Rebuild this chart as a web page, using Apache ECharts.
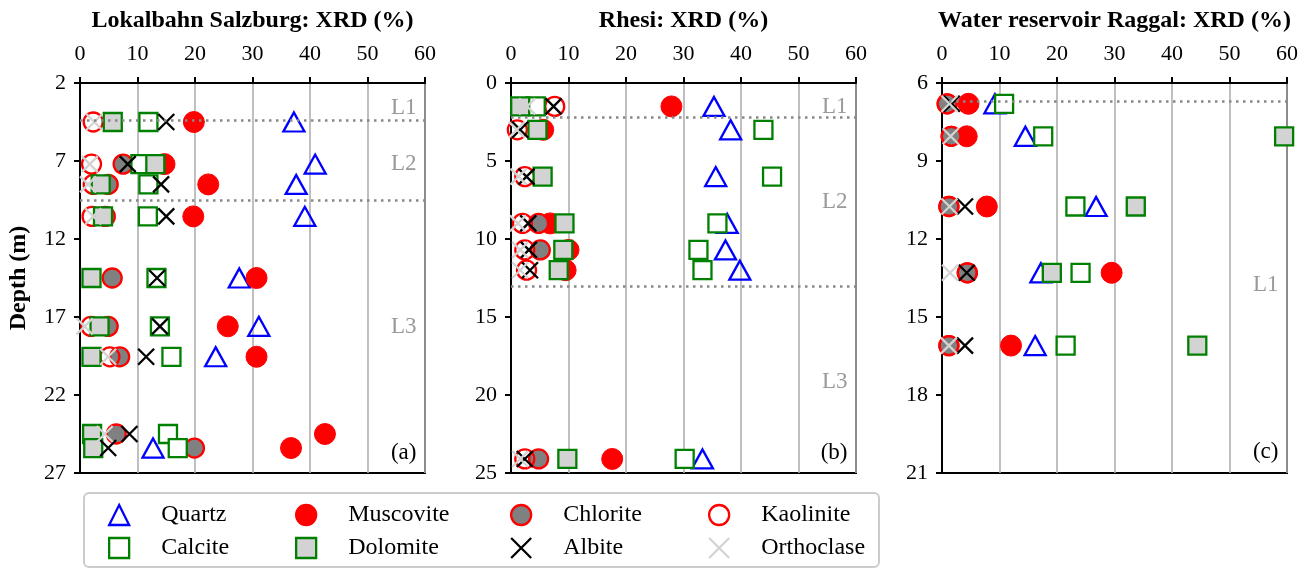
<!DOCTYPE html>
<html>
<head>
<meta charset="utf-8">
<script src="https://cdn.jsdelivr.net/npm/echarts@6/dist/echarts.min.js"></script>
<style>
  html, body { margin: 0; padding: 0; background: #ffffff; }
  #chart { width: 1313px; height: 568px; }
</style>
</head>
<body>
<div id="chart"></div>
<script>
// ---- Data: XRD mineral contents (%) per sample depth (m) ----
const minerals = ['Quartz', 'Muscovite', 'Chlorite', 'Kaolinite', 'Calcite', 'Dolomite', 'Albite', 'Orthoclase'];

// (a) Lokalbahn Salzburg
const depthA      = [4.5, 7.2, 8.5, 10.55, 14.5, 17.6, 19.55, 24.5, 25.4];
const quartzA     = [37.2, 40.9, 37.6, 39.1, 27.7, 31.1, 23.6, null, 12.7];
const muscoviteA  = [19.8, 14.7, 22.3, 19.7, 30.7, 25.7, 30.7, 42.6, 36.7];
const chloriteA   = [null, 7.5, 4.9, 4.4, 5.6, 4.9, 6.9, 6.3, 19.9];
const kaoliniteA  = [2.3, 2.0, 2.3, 2.1, null, 1.9, 5.2, null, null];
const calciteA    = [11.9, 10.5, 11.9, 11.8, 13.3, 13.9, 15.9, 15.3, 17.0];
const dolomiteA   = [5.7, 13.1, 3.6, 4.0, 2.0, 3.4, 2.0, 2.1, 2.3];
const albiteA     = [15.0, 8.3, 14.1, 15.0, 13.4, 13.9, 11.5, 8.6, 4.9];
const orthoclaseA = [2.5, 1.7, 1.4, 2.3, null, 0.8, 4.9, 4.3, null];
const boundariesA = [4.4, 9.5];
const layerNamesA = ['L1', 'L2', 'L3'];
const layerDepthA = [3.6, 7.2, 17.65];

// (b) Rhesi
const depthB      = [1.5, 3.0, 6.0, 9.0, 10.7, 12.0, 24.1];
const quartzB     = [35.3, 38.2, 35.6, 37.6, 37.3, 39.8, 33.3];
const muscoviteB  = [27.9, 5.6, null, 6.8, 10.0, 9.5, 17.6];
const chloriteB   = [null, null, null, 4.8, 5.1, null, 4.8];
const kaoliniteB  = [7.6, 1.1, 2.4, 2.0, 2.4, 2.7, 2.4];
const calciteB    = [4.3, 43.9, 45.4, 35.9, 32.6, 33.3, 30.2];
const dolomiteB   = [1.6, 4.6, 5.5, 9.3, 9.1, 8.3, 9.8];
const albiteB     = [7.4, 1.6, 2.7, 3.0, 3.1, 3.3, 2.4];
const orthoclaseB = [2.8, 1.0, 1.3, 1.2, 1.6, 1.6, 1.6];
const boundariesB = [2.2, 13.0];
const layerNamesB = ['L1', 'L2', 'L3'];
const layerDepthB = [1.55, 7.6, 19.15];

// (c) Water reservoir Raggal
const depthC      = [6.8, 8.05, 10.75, 13.3, 16.1];
const quartzC     = [9.2, 14.5, 26.8, 17.2, 16.2];
const muscoviteC  = [4.6, 4.3, 7.8, 29.5, 12.0];
const chloriteC   = [0.9, 1.6, 1.2, 4.4, 1.2];
const kaoliniteC  = [0.9, 1.6, 1.2, 4.4, 1.2];
const calciteC    = [10.8, 17.6, 23.2, 24.1, 21.5];
const dolomiteC   = [null, 59.5, 33.7, 19.1, 44.4];
const albiteC     = [1.7, null, 4.0, 4.3, 4.0];
const orthoclaseC = [1.3, 1.5, 1.3, 1.4, 1.2];
const boundariesC = [6.7];
const layerNamesC = ['L1'];
const layerDepthC = [13.77];

// Panel titles, tags and axis ranges
const titles     = ['Lokalbahn Salzburg: XRD (%)', 'Rhesi: XRD (%)', 'Water reservoir Raggal: XRD (%)'];
const panelTags  = ['(a)', '(b)', '(c)'];
const tagDepth   = [25.7, 23.7, 20.2];
const depthMin   = [2, 0, 6];
const depthMax   = [27, 25, 21];
const depthStep  = [5, 5, 3];
const xrdMin = 0, xrdMax = 60, xrdStep = 10;

// ---- Assemble ----
const panels = [
  { depth: depthA, values: [quartzA, muscoviteA, chloriteA, kaoliniteA, calciteA, dolomiteA, albiteA, orthoclaseA],
    bounds: boundariesA, layers: layerNamesA, layerDepth: layerDepthA },
  { depth: depthB, values: [quartzB, muscoviteB, chloriteB, kaoliniteB, calciteB, dolomiteB, albiteB, orthoclaseB],
    bounds: boundariesB, layers: layerNamesB, layerDepth: layerDepthB },
  { depth: depthC, values: [quartzC, muscoviteC, chloriteC, kaoliniteC, calciteC, dolomiteC, albiteC, orthoclaseC],
    bounds: boundariesC, layers: layerNamesC, layerDepth: layerDepthC }
];

const FONT = 'Liberation Serif';
const crossPath = 'path://M0,0L10,10M10,0L0,10';
const markerStyle = {
  Quartz:     { symbol: 'triangle', symbolSize: [21, 19], itemStyle: { color: 'rgba(255,255,255,0)', borderColor: '#0000ff', borderWidth: 2.3 } },
  Muscovite:  { symbol: 'circle',   symbolSize: 21,       itemStyle: { color: '#ff0000', borderColor: '#ff0000', borderWidth: 1 } },
  Chlorite:   { symbol: 'circle',   symbolSize: 19,       itemStyle: { color: '#808080', borderColor: '#ff0000', borderWidth: 2.3 } },
  Kaolinite:  { symbol: 'circle',   symbolSize: 19,       itemStyle: { color: 'rgba(255,255,255,0)', borderColor: '#ff0000', borderWidth: 2.3 } },
  Calcite:    { symbol: 'rect',     symbolSize: 18,       itemStyle: { color: '#ffffff', borderColor: '#008000', borderWidth: 2.3 } },
  Dolomite:   { symbol: 'rect',     symbolSize: 18,       itemStyle: { color: '#d3d3d3', borderColor: '#008000', borderWidth: 2.3 } },
  Albite:     { symbol: crossPath,  symbolSize: 16,       itemStyle: { color: 'rgba(0,0,0,0)', borderColor: '#000000', borderWidth: 2.3 } },
  Orthoclase: { symbol: crossPath,  symbolSize: 16,       itemStyle: { color: 'rgba(0,0,0,0)', borderColor: '#d3d3d3', borderWidth: 2.3 } }
};

const gridLeft = [80, 511, 942];
const gridWidth = 345;
const grids = gridLeft.map(l => ({ left: l, width: gridWidth, top: 83, height: 390, show: true,
  borderColor: '#000', borderWidth: 2, backgroundColor: 'transparent' }));

const xAxes = titles.map((t, i) => ({
  gridIndex: i, type: 'value', position: 'top', min: xrdMin, max: xrdMax, interval: xrdStep,
  name: t, nameLocation: 'middle', nameGap: 50,
  nameTextStyle: { fontFamily: FONT, fontSize: 24, fontWeight: 'bold', color: '#000' },
  axisLine: { show: true, onZero: false, lineStyle: { color: '#000', width: 2 } },
  axisTick: { show: true, inside: false, length: 6, lineStyle: { color: '#000', width: 2 } },
  axisLabel: { fontFamily: FONT, fontSize: 22, color: '#000', margin: 18 },
  splitLine: { show: true, lineStyle: { color: '#b0b0b0', width: 1.6 } }
}));

const yAxes = depthMin.map((mn, i) => ({
  gridIndex: i, type: 'value', inverse: true, min: mn, max: depthMax[i], interval: depthStep[i],
  name: i === 0 ? 'Depth (m)' : '', nameLocation: 'middle', nameGap: 49,
  nameTextStyle: { fontFamily: FONT, fontSize: 24, fontWeight: 'bold', color: '#000' },
  axisLine: { show: true, onZero: false, lineStyle: { color: '#000', width: 2 } },
  axisTick: { show: true, inside: false, length: 6, lineStyle: { color: '#000', width: 2 } },
  axisLabel: { fontFamily: FONT, fontSize: 22, color: '#000', margin: 14 },
  splitLine: { show: false }
}));

const series = [];
const labelX = 58.6;
panels.forEach((p, i) => {
  // layer boundaries, layer names and panel tag
  const annot = p.layers.map((n, k) => ({ name: n, value: [labelX, p.layerDepth[k]] }));
  annot.push({ name: panelTags[i], value: [labelX, tagDepth[i]], label: { color: '#000' } });
  series.push({
    type: 'scatter', name: 'annot' + i, xAxisIndex: i, yAxisIndex: i, silent: true,
    symbolSize: 1, itemStyle: { color: 'rgba(0,0,0,0)', opacity: 1 }, data: annot,
    label: { show: true, position: 'left', distance: 0, formatter: '{b}',
      fontFamily: FONT, fontSize: 23, color: '#999999' },
    markLine: { silent: true, symbol: ['none', 'none'], label: { show: false },
      lineStyle: { type: [2.5, 4.5], color: '#888888', width: 2.5, opacity: 1 },
      data: p.bounds.map(d => ({ yAxis: d })) }
  });
  minerals.forEach((m, k) => {
    const st = markerStyle[m];
    series.push({
      type: 'scatter', name: m, xAxisIndex: i, yAxisIndex: i,
      symbol: st.symbol, symbolSize: st.symbolSize,
      itemStyle: Object.assign({ opacity: 1 }, st.itemStyle),
      emphasis: { disabled: true },
      data: p.depth.map((d, j) => p.values[k][j] == null ? null : [p.values[k][j], d]).filter(v => v)
    });
  });
});

// legend: 4 columns x 2 rows
const legendCols = [['Quartz', 'Calcite'], ['Muscovite', 'Dolomite'], ['Chlorite', 'Albite'], ['Kaolinite', 'Orthoclase']];
const legendLeft = [108, 295, 510, 708];
const legendTop = [503, 536];
const legends = [];
legendCols.forEach((col, c) => col.forEach((name, r) => {
  legends.push({
    data: [name], left: legendLeft[c], top: legendTop[r], selectedMode: false,
    itemWidth: 20, itemHeight: 20, padding: 0,
    itemStyle: { borderWidth: 2.3, opacity: 1 },
    textStyle: { fontFamily: FONT, fontSize: 24, color: '#000', padding: [0, 0, 0, 27] }
  });
}));

const option = {
  animation: false,
  backgroundColor: '#ffffff',
  textStyle: { fontFamily: FONT },
  grid: grids,
  xAxis: xAxes,
  yAxis: yAxes,
  legend: legends,
  graphic: [{
    type: 'rect', left: 83, top: 492, z: -1, silent: true,
    shape: { width: 795, height: 74, r: 5 },
    style: { fill: '#ffffff', stroke: '#cccccc', lineWidth: 2 }
  }],
  series: series
};

echarts.init(document.getElementById('chart'), null, { renderer: 'canvas' }).setOption(option);
</script>
</body>
</html>
